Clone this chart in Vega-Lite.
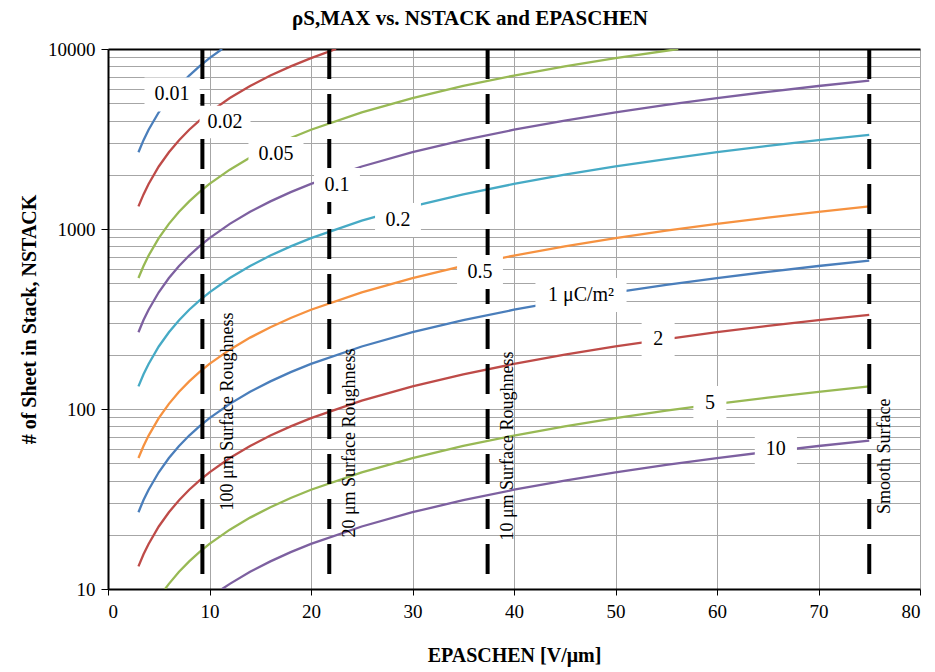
{
  "$schema": "https://vega.github.io/schema/vega-lite/v6.json",
  "width": 812,
  "height": 540,
  "autosize": "none",
  "padding": {"left": 108, "top": 49, "right": 15, "bottom": 83},
  "background": "white",
  "title": {
    "text": "ρS,MAX vs. NSTACK and EPASCHEN",
    "font": "Liberation Serif",
    "fontSize": 21,
    "fontWeight": "bold",
    "color": "black",
    "anchor": "middle",
    "frame": "bounds",
    "offset": 11
  },
  "config": {
    "view": {"stroke": null},
    "font": "Liberation Serif"
  },
  "datasets": {
    "curves": [
      {"rho": "0.01", "E": 3, "N": 2670}, {"rho": "0.01", "E": 3.5, "N": 3115}, {"rho": "0.01", "E": 4, "N": 3560}, {"rho": "0.01", "E": 5, "N": 4450}, {"rho": "0.01", "E": 6, "N": 5340}, {"rho": "0.01", "E": 7, "N": 6230}, {"rho": "0.01", "E": 8, "N": 7120}, {"rho": "0.01", "E": 9, "N": 8010}, {"rho": "0.01", "E": 10, "N": 8900}, {"rho": "0.01", "E": 11.24, "N": 10000},
      {"rho": "0.02", "E": 3, "N": 1335}, {"rho": "0.02", "E": 3.5, "N": 1557}, {"rho": "0.02", "E": 4, "N": 1780}, {"rho": "0.02", "E": 5, "N": 2225}, {"rho": "0.02", "E": 6, "N": 2670}, {"rho": "0.02", "E": 7, "N": 3115}, {"rho": "0.02", "E": 8, "N": 3560}, {"rho": "0.02", "E": 9, "N": 4005}, {"rho": "0.02", "E": 10, "N": 4450}, {"rho": "0.02", "E": 12, "N": 5340}, {"rho": "0.02", "E": 14, "N": 6230}, {"rho": "0.02", "E": 16, "N": 7120}, {"rho": "0.02", "E": 18, "N": 8010}, {"rho": "0.02", "E": 20, "N": 8900}, {"rho": "0.02", "E": 22.47, "N": 10000},
      {"rho": "0.05", "E": 3, "N": 534}, {"rho": "0.05", "E": 3.5, "N": 623}, {"rho": "0.05", "E": 4, "N": 712}, {"rho": "0.05", "E": 5, "N": 890}, {"rho": "0.05", "E": 6, "N": 1068}, {"rho": "0.05", "E": 7, "N": 1246}, {"rho": "0.05", "E": 8, "N": 1424}, {"rho": "0.05", "E": 9, "N": 1602}, {"rho": "0.05", "E": 10, "N": 1780}, {"rho": "0.05", "E": 12, "N": 2136}, {"rho": "0.05", "E": 14, "N": 2492}, {"rho": "0.05", "E": 16, "N": 2848}, {"rho": "0.05", "E": 18, "N": 3204}, {"rho": "0.05", "E": 20, "N": 3560}, {"rho": "0.05", "E": 25, "N": 4450}, {"rho": "0.05", "E": 30, "N": 5340}, {"rho": "0.05", "E": 35, "N": 6230}, {"rho": "0.05", "E": 40, "N": 7120}, {"rho": "0.05", "E": 45, "N": 8010}, {"rho": "0.05", "E": 50, "N": 8900}, {"rho": "0.05", "E": 56.18, "N": 10000},
      {"rho": "0.1", "E": 3, "N": 267}, {"rho": "0.1", "E": 3.5, "N": 312}, {"rho": "0.1", "E": 4, "N": 356}, {"rho": "0.1", "E": 5, "N": 445}, {"rho": "0.1", "E": 6, "N": 534}, {"rho": "0.1", "E": 7, "N": 623}, {"rho": "0.1", "E": 8, "N": 712}, {"rho": "0.1", "E": 9, "N": 801}, {"rho": "0.1", "E": 10, "N": 890}, {"rho": "0.1", "E": 12, "N": 1068}, {"rho": "0.1", "E": 14, "N": 1246}, {"rho": "0.1", "E": 16, "N": 1424}, {"rho": "0.1", "E": 18, "N": 1602}, {"rho": "0.1", "E": 20, "N": 1780}, {"rho": "0.1", "E": 25, "N": 2225}, {"rho": "0.1", "E": 30, "N": 2670}, {"rho": "0.1", "E": 35, "N": 3115}, {"rho": "0.1", "E": 40, "N": 3560}, {"rho": "0.1", "E": 45, "N": 4005}, {"rho": "0.1", "E": 50, "N": 4450}, {"rho": "0.1", "E": 55, "N": 4895}, {"rho": "0.1", "E": 60, "N": 5340}, {"rho": "0.1", "E": 65, "N": 5785}, {"rho": "0.1", "E": 70, "N": 6230}, {"rho": "0.1", "E": 75, "N": 6675},
      {"rho": "0.2", "E": 3, "N": 133.5}, {"rho": "0.2", "E": 3.5, "N": 156}, {"rho": "0.2", "E": 4, "N": 178}, {"rho": "0.2", "E": 5, "N": 222.5}, {"rho": "0.2", "E": 6, "N": 267}, {"rho": "0.2", "E": 7, "N": 311.5}, {"rho": "0.2", "E": 8, "N": 356}, {"rho": "0.2", "E": 9, "N": 400.5}, {"rho": "0.2", "E": 10, "N": 445}, {"rho": "0.2", "E": 12, "N": 534}, {"rho": "0.2", "E": 14, "N": 623}, {"rho": "0.2", "E": 16, "N": 712}, {"rho": "0.2", "E": 18, "N": 801}, {"rho": "0.2", "E": 20, "N": 890}, {"rho": "0.2", "E": 25, "N": 1112.5}, {"rho": "0.2", "E": 30, "N": 1335}, {"rho": "0.2", "E": 35, "N": 1557.5}, {"rho": "0.2", "E": 40, "N": 1780}, {"rho": "0.2", "E": 45, "N": 2002.5}, {"rho": "0.2", "E": 50, "N": 2225}, {"rho": "0.2", "E": 55, "N": 2447.5}, {"rho": "0.2", "E": 60, "N": 2670}, {"rho": "0.2", "E": 65, "N": 2892.5}, {"rho": "0.2", "E": 70, "N": 3115}, {"rho": "0.2", "E": 75, "N": 3337.5},
      {"rho": "0.5", "E": 3, "N": 53.4}, {"rho": "0.5", "E": 3.5, "N": 62.3}, {"rho": "0.5", "E": 4, "N": 71.2}, {"rho": "0.5", "E": 5, "N": 89}, {"rho": "0.5", "E": 6, "N": 106.8}, {"rho": "0.5", "E": 7, "N": 124.6}, {"rho": "0.5", "E": 8, "N": 142.4}, {"rho": "0.5", "E": 9, "N": 160.2}, {"rho": "0.5", "E": 10, "N": 178}, {"rho": "0.5", "E": 12, "N": 213.6}, {"rho": "0.5", "E": 14, "N": 249.2}, {"rho": "0.5", "E": 16, "N": 284.8}, {"rho": "0.5", "E": 18, "N": 320.4}, {"rho": "0.5", "E": 20, "N": 356}, {"rho": "0.5", "E": 25, "N": 445}, {"rho": "0.5", "E": 30, "N": 534}, {"rho": "0.5", "E": 35, "N": 623}, {"rho": "0.5", "E": 40, "N": 712}, {"rho": "0.5", "E": 45, "N": 801}, {"rho": "0.5", "E": 50, "N": 890}, {"rho": "0.5", "E": 55, "N": 979}, {"rho": "0.5", "E": 60, "N": 1068}, {"rho": "0.5", "E": 65, "N": 1157}, {"rho": "0.5", "E": 70, "N": 1246}, {"rho": "0.5", "E": 75, "N": 1335},
      {"rho": "1", "E": 3, "N": 26.7}, {"rho": "1", "E": 3.5, "N": 31.2}, {"rho": "1", "E": 4, "N": 35.6}, {"rho": "1", "E": 5, "N": 44.5}, {"rho": "1", "E": 6, "N": 53.4}, {"rho": "1", "E": 7, "N": 62.3}, {"rho": "1", "E": 8, "N": 71.2}, {"rho": "1", "E": 9, "N": 80.1}, {"rho": "1", "E": 10, "N": 89}, {"rho": "1", "E": 12, "N": 106.8}, {"rho": "1", "E": 14, "N": 124.6}, {"rho": "1", "E": 16, "N": 142.4}, {"rho": "1", "E": 18, "N": 160.2}, {"rho": "1", "E": 20, "N": 178}, {"rho": "1", "E": 25, "N": 222.5}, {"rho": "1", "E": 30, "N": 267}, {"rho": "1", "E": 35, "N": 311.5}, {"rho": "1", "E": 40, "N": 356}, {"rho": "1", "E": 45, "N": 400.5}, {"rho": "1", "E": 50, "N": 445}, {"rho": "1", "E": 55, "N": 489.5}, {"rho": "1", "E": 60, "N": 534}, {"rho": "1", "E": 65, "N": 578.5}, {"rho": "1", "E": 70, "N": 623}, {"rho": "1", "E": 75, "N": 667.5},
      {"rho": "2", "E": 3, "N": 13.35}, {"rho": "2", "E": 3.5, "N": 15.6}, {"rho": "2", "E": 4, "N": 17.8}, {"rho": "2", "E": 5, "N": 22.25}, {"rho": "2", "E": 6, "N": 26.7}, {"rho": "2", "E": 7, "N": 31.15}, {"rho": "2", "E": 8, "N": 35.6}, {"rho": "2", "E": 9, "N": 40.05}, {"rho": "2", "E": 10, "N": 44.5}, {"rho": "2", "E": 12, "N": 53.4}, {"rho": "2", "E": 14, "N": 62.3}, {"rho": "2", "E": 16, "N": 71.2}, {"rho": "2", "E": 18, "N": 80.1}, {"rho": "2", "E": 20, "N": 89}, {"rho": "2", "E": 25, "N": 111.25}, {"rho": "2", "E": 30, "N": 133.5}, {"rho": "2", "E": 35, "N": 155.75}, {"rho": "2", "E": 40, "N": 178}, {"rho": "2", "E": 45, "N": 200.25}, {"rho": "2", "E": 50, "N": 222.5}, {"rho": "2", "E": 55, "N": 244.75}, {"rho": "2", "E": 60, "N": 267}, {"rho": "2", "E": 65, "N": 289.25}, {"rho": "2", "E": 70, "N": 311.5}, {"rho": "2", "E": 75, "N": 333.75},
      {"rho": "5", "E": 5.62, "N": 10}, {"rho": "5", "E": 6, "N": 10.68}, {"rho": "5", "E": 7, "N": 12.46}, {"rho": "5", "E": 8, "N": 14.24}, {"rho": "5", "E": 9, "N": 16.02}, {"rho": "5", "E": 10, "N": 17.8}, {"rho": "5", "E": 12, "N": 21.36}, {"rho": "5", "E": 14, "N": 24.92}, {"rho": "5", "E": 16, "N": 28.48}, {"rho": "5", "E": 18, "N": 32.04}, {"rho": "5", "E": 20, "N": 35.6}, {"rho": "5", "E": 25, "N": 44.5}, {"rho": "5", "E": 30, "N": 53.4}, {"rho": "5", "E": 35, "N": 62.3}, {"rho": "5", "E": 40, "N": 71.2}, {"rho": "5", "E": 45, "N": 80.1}, {"rho": "5", "E": 50, "N": 89}, {"rho": "5", "E": 55, "N": 97.9}, {"rho": "5", "E": 60, "N": 106.8}, {"rho": "5", "E": 65, "N": 115.7}, {"rho": "5", "E": 70, "N": 124.6}, {"rho": "5", "E": 75, "N": 133.5},
      {"rho": "10", "E": 11.24, "N": 10}, {"rho": "10", "E": 12, "N": 10.68}, {"rho": "10", "E": 14, "N": 12.46}, {"rho": "10", "E": 16, "N": 14.24}, {"rho": "10", "E": 18, "N": 16.02}, {"rho": "10", "E": 20, "N": 17.8}, {"rho": "10", "E": 25, "N": 22.25}, {"rho": "10", "E": 30, "N": 26.7}, {"rho": "10", "E": 35, "N": 31.15}, {"rho": "10", "E": 40, "N": 35.6}, {"rho": "10", "E": 45, "N": 40.05}, {"rho": "10", "E": 50, "N": 44.5}, {"rho": "10", "E": 55, "N": 48.95}, {"rho": "10", "E": 60, "N": 53.4}, {"rho": "10", "E": 65, "N": 57.85}, {"rho": "10", "E": 70, "N": 62.3}, {"rho": "10", "E": 75, "N": 66.75}
    ],
    "limits": [
      {"name": "100 μm", "E": 9.3},
      {"name": "20 μm", "E": 21.8},
      {"name": "10 μm", "E": 37.4},
      {"name": "Smooth", "E": 75}
    ],
    "curveLabels": [
      {"label": "0.01", "E": 6.31, "N": 5590},
      {"label": "0.02", "E": 11.53, "N": 3930},
      {"label": "0.05", "E": 16.55, "N": 2610},
      {"label": "0.1", "E": 22.56, "N": 1755},
      {"label": "0.2", "E": 28.57, "N": 1122},
      {"label": "0.5", "E": 36.65, "N": 577},
      {"label": "1 μC/m²", "E": 46.6, "N": 430},
      {"label": "2", "E": 54.2, "N": 245},
      {"label": "5", "E": 59.3, "N": 108},
      {"label": "10", "E": 65.8, "N": 60}
    ],
    "limitLabels": [
      {"text": "100 μm Surface Roughness", "E": 11.82, "N": 96.9},
      {"text": "20 μm Surface Roughness", "E": 23.84, "N": 64.7},
      {"text": "10 μm Surface Roughness", "E": 39.4, "N": 62.3},
      {"text": "Smooth Surface", "E": 76.55, "N": 54.6}
    ]
  },
  "encoding": {
    "x": {
      "field": "E",
      "type": "quantitative",
      "scale": {"domain": [0, 80], "nice": false},
      "axis": {
        "title": "EPASCHEN [V/μm]",
        "titleFont": "Liberation Serif",
        "titleFontSize": 20,
        "titleFontWeight": "bold",
        "titleColor": "black",
        "titlePadding": 24,
        "values": [0, 10, 20, 30, 40, 50, 60, 70, 80],
        "format": "d",
        "labelFont": "Liberation Serif",
        "labelFontSize": 19,
        "labelColor": "black",
        "labelPadding": 7,
        "domainColor": "black",
        "domainWidth": 2,
        "tickColor": "black",
        "tickSize": 6,
        "tickWidth": 1,
        "grid": true,
        "gridColor": "#a6a6a6",
        "gridWidth": 1
      }
    },
    "y": {
      "field": "N",
      "type": "quantitative",
      "scale": {"type": "log", "domain": [10, 10000], "nice": false},
      "axis": {
        "title": "# of Sheet in Stack, NSTACK",
        "titleFont": "Liberation Serif",
        "titleFontSize": 20,
        "titleFontWeight": "bold",
        "titleColor": "black",
        "titlePadding": 8,
        "values": [10, 20, 30, 40, 50, 60, 70, 80, 90, 100, 200, 300, 400, 500, 600, 700, 800, 900, 1000, 2000, 3000, 4000, 5000, 6000, 7000, 8000, 9000, 10000],
        "format": "d",
        "labelExpr": "(datum.value == 10 || datum.value == 100 || datum.value == 1000 || datum.value == 10000) ? datum.label : ''",
        "labelFont": "Liberation Serif",
        "labelFontSize": 19,
        "labelColor": "black",
        "labelPadding": 6,
        "domainColor": "black",
        "domainWidth": 2,
        "tickColor": "black",
        "tickOpacity": {"condition": {"test": "datum.value == 10 || datum.value == 100 || datum.value == 1000 || datum.value == 10000", "value": 1}, "value": 0},
        "tickSize": 7,
        "tickWidth": 1,
        "grid": true,
        "gridColor": {"condition": {"test": "datum.value == 10000", "value": "black"}, "value": "#a6a6a6"},
        "gridWidth": {"condition": {"test": "datum.value == 10000", "value": 2}, "value": 1}
      }
    }
  },
  "layer": [
    {
      "data": {"name": "curves"},
      "mark": {"type": "line", "strokeWidth": 2.3, "clip": true},
      "encoding": {
        "color": {
          "field": "rho",
          "type": "nominal",
          "scale": {
            "domain": ["0.01", "0.02", "0.05", "0.1", "0.2", "0.5", "1", "2", "5", "10"],
            "range": ["#4A7EBB", "#BE4B48", "#98B954", "#7D60A0", "#46AAC5", "#F69240", "#4A7EBB", "#BE4B48", "#98B954", "#7D60A0"]
          },
          "legend": null
        },
        "order": {"field": "E", "type": "quantitative"}
      }
    },
    {
      "data": {"name": "limits"},
      "mark": {"type": "rule", "color": "black", "strokeWidth": 4, "strokeDash": [30, 15]},
      "encoding": {
        "y": null,
        "x": {"field": "E", "type": "quantitative"}
      }
    },
    {
      "data": {"name": "curveLabels"},
      "mark": {"type": "point", "filled": true, "fill": "white", "strokeWidth": 0, "opacity": 1, "size": 1156},
      "encoding": {
        "shape": {
          "field": "label",
          "type": "nominal",
          "scale": {
            "domain": ["0.01", "0.02", "0.05", "0.1", "0.2", "0.5", "1 μC/m²", "2", "5", "10"],
            "range": [
              "M-1.62,-1H1.62V1H-1.62Z",
              "M-1.5,-0.95H1.5V0.95H-1.5Z",
              "M-1.62,-1H1.62V1H-1.62Z",
              "M-1.35,-1H1.35V1H-1.35Z",
              "M-1.35,-1H1.35V1H-1.35Z",
              "M-1.35,-1H1.35V1H-1.35Z",
              "M-2.68,-1H2.68V1H-2.68Z",
              "M-0.97,-1H0.97V1H-0.97Z",
              "M-0.97,-1H0.97V1H-0.97Z",
              "M-1.24,-1H1.24V1H-1.24Z"
            ]
          },
          "legend": null
        }
      }
    },
    {
      "data": {"name": "curveLabels"},
      "mark": {"type": "text", "font": "Liberation Serif", "fontSize": 20, "color": "black", "align": "center", "baseline": "middle"},
      "encoding": {
        "text": {"field": "label", "type": "nominal"}
      }
    },
    {
      "data": {"name": "limitLabels"},
      "mark": {"type": "text", "font": "Liberation Serif", "fontSize": 18, "color": "black", "align": "center", "baseline": "middle", "angle": 270},
      "encoding": {
        "text": {"field": "text", "type": "nominal"}
      }
    }
  ]
}
